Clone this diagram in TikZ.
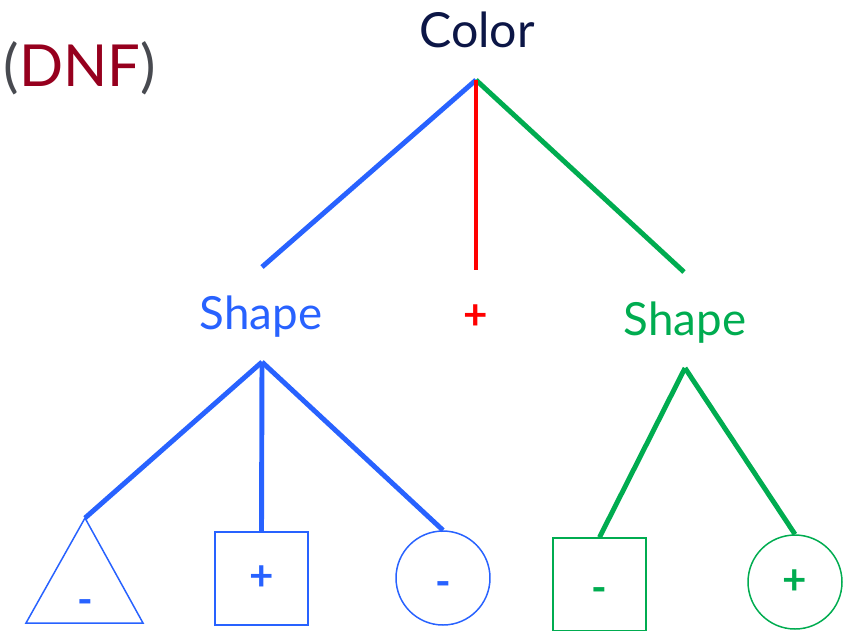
\documentclass[tikz,border=0pt]{standalone}
\usepackage{fontspec}
\setmainfont{Lato}
\usetikzlibrary{positioning}
\definecolor{navy}{RGB}{12,22,70}
\definecolor{dnfred}{RGB}{150,0,30}
\definecolor{pargray}{RGB}{72,74,80}
\definecolor{treeblue}{RGB}{40,98,255}
\definecolor{treegreen}{RGB}{0,172,80}
\definecolor{treered}{RGB}{255,0,0}
\newcommand{\lowminus}{\raisebox{-10.5pt}[0pt][0pt]{-}}
\tikzset{
  branch/.style={line width=2.8pt},
  leafbox/.style={draw, line width=0.85pt, minimum size=1.86cm, inner sep=0pt},
  leafcirc/.style={draw, circle, line width=0.85pt, minimum size=1.88cm, inner sep=0pt},
  attr/.style={font=\fontsize{26}{29}\selectfont},
  sign/.style={font=\fontsize{24}{26}\selectfont\bfseries}
}
\begin{document}
\begin{tikzpicture}[x=0.02cm,y=-0.02cm]
\useasboundingbox (0,0) rectangle (854,630);
\node (dnf) at (80,68) {\fontsize{33}{36}\selectfont\color{pargray}(\textcolor{dnfred}{DNF})};
\node[font=\fontsize{27.5}{30}\selectfont, text=navy] (color) at (477,30) {Color};
\coordinate (croot) at (476,80);
\coordinate (lend) at (262,267);
\coordinate (mend) at (476,270);
\coordinate (rend) at (684,272);
\draw[branch, treeblue] (croot) -- (lend);
\draw[branch, treegreen] (croot) -- (rend);
\draw[branch, treered] (croot) -- (mend);
\node[attr, text=treeblue] (lshape) at (261,317) {Shape};
\node[sign, text=treered] (mplus) at (476,317) {+};
\node[attr, text=treegreen] (rshape) at (685,323) {Shape};
\coordinate (lroot) at (262,362);
\coordinate (rroot) at (685,368);
\coordinate (tritop) at (85,518);
\draw[treeblue, line width=0.85pt, line join=miter] (tritop) -- (143,623) -- (26,623) -- cycle;
\node[sign, text=treeblue] (trisign) at (85,596) {\lowminus};
\node[leafbox, sign, draw=treeblue, text=treeblue] (lsquare) at (261.5,578.5) {+};
\node[leafcirc, sign, draw=treeblue, text=treeblue] (lcirc) at (443,578) {\lowminus};
\node[leafbox, sign, draw=treegreen, text=treegreen] (rsquare) at (599.5,584.5) {\lowminus};
\node[leafcirc, sign, draw=treegreen, text=treegreen] (rcirc) at (795,582) {+};
\draw[branch, treeblue] (lroot) -- (tritop);
\draw[branch, treeblue] (lroot) -- (lsquare.north);
\draw[branch, treeblue] (lroot) -- (lcirc.north);
\draw[branch, treegreen] (rroot) -- (rsquare.north);
\draw[branch, treegreen] (rroot) -- (rcirc.north);
\end{tikzpicture}
\end{document}
